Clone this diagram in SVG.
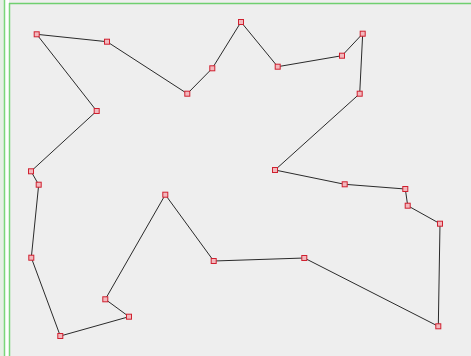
<svg xmlns="http://www.w3.org/2000/svg" width="471" height="356" viewBox="0 0 471 356">
<style>
.v{fill:#f2b8bd;stroke:#d0202f;stroke-width:1}
.e{fill:none;stroke:#2a2a2a;stroke-width:1}
</style>
<rect x="0" y="0" width="471" height="356" fill="#eeeeee"/>
<rect x="0" y="0" width="4" height="356" fill="#e6f0e6"/>
<rect x="5" y="0" width="4" height="356" fill="#ffffff"/>
<line x1="4.5" y1="0" x2="4.5" y2="356" stroke="#7ad67a" stroke-width="1.5"/>
<line x1="9.5" y1="3" x2="9.5" y2="356" stroke="#7ad67a" stroke-width="1.5"/>
<line x1="9" y1="3.5" x2="471" y2="3.5" stroke="#6fcf6f" stroke-width="1.5"/>
<g id="connectors">
<polygon class="e" points="36.7,34.3 107,41.7 187.3,93.7 212.3,68.3 241,22 277.7,66.7 342,55.7 362.7,33.7 359.7,93.7 275,170 344.7,184.3 405.3,189 407.7,205.7 440,223.7 438.3,326.3 304.3,258 213.7,261 165.3,194.7 105.3,299.3 129,316.7 60.3,336 31.3,257.7 38.7,184.7 31,171.3 96.7,111"/>
</g>
<g id="n1"><rect class="v" x="34.2" y="31.8" width="5" height="5"/></g>
<g id="n2"><rect class="v" x="104.5" y="39.2" width="5" height="5"/></g>
<g id="n3"><rect class="v" x="184.8" y="91.2" width="5" height="5"/></g>
<g id="n4"><rect class="v" x="209.8" y="65.8" width="5" height="5"/></g>
<g id="n5"><rect class="v" x="238.5" y="19.5" width="5" height="5"/></g>
<g id="n6"><rect class="v" x="275.2" y="64.2" width="5" height="5"/></g>
<g id="n7"><rect class="v" x="339.5" y="53.2" width="5" height="5"/></g>
<g id="n8"><rect class="v" x="360.2" y="31.2" width="5" height="5"/></g>
<g id="n9"><rect class="v" x="357.2" y="91.2" width="5" height="5"/></g>
<g id="n10"><rect class="v" x="272.5" y="167.5" width="5" height="5"/></g>
<g id="n11"><rect class="v" x="342.2" y="181.8" width="5" height="5"/></g>
<g id="n12"><rect class="v" x="402.8" y="186.5" width="5" height="5"/></g>
<g id="n13"><rect class="v" x="405.2" y="203.2" width="5" height="5"/></g>
<g id="n14"><rect class="v" x="437.5" y="221.2" width="5" height="5"/></g>
<g id="n15"><rect class="v" x="435.8" y="323.8" width="5" height="5"/></g>
<g id="n16"><rect class="v" x="301.8" y="255.5" width="5" height="5"/></g>
<g id="n17"><rect class="v" x="211.2" y="258.5" width="5" height="5"/></g>
<g id="n18"><rect class="v" x="162.8" y="192.2" width="5" height="5"/></g>
<g id="n19"><rect class="v" x="102.8" y="296.8" width="5" height="5"/></g>
<g id="n20"><rect class="v" x="126.5" y="314.2" width="5" height="5"/></g>
<g id="n21"><rect class="v" x="57.8" y="333.5" width="5" height="5"/></g>
<g id="n22"><rect class="v" x="28.8" y="255.2" width="5" height="5"/></g>
<g id="n23"><rect class="v" x="36.2" y="182.2" width="5" height="5"/></g>
<g id="n24"><rect class="v" x="28.5" y="168.8" width="5" height="5"/></g>
<g id="n25"><rect class="v" x="94.2" y="108.5" width="5" height="5"/></g>
</svg>
